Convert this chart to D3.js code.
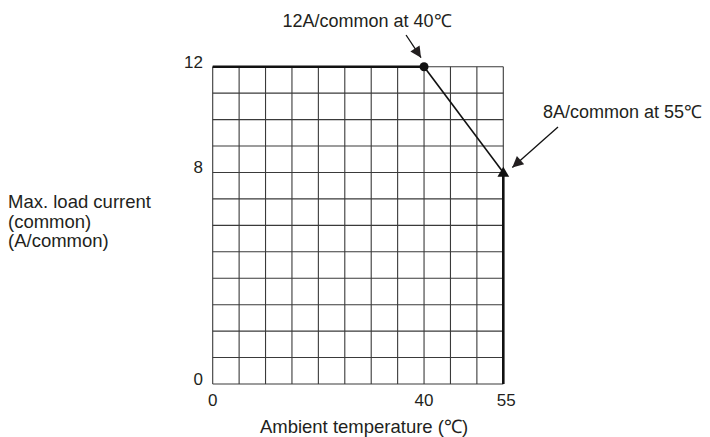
<html>
<head>
<script src="https://d3js.org/d3.v7.min.js"></script>
<style>
  body { margin: 0; background: #fff; }
  text { font-family: "Liberation Sans", Arial, sans-serif; fill: #231f20; }
</style>
</head>
<body>
<svg width="710" height="437"></svg>
<script>
// derating curve
var temps = [0, 40, 55, 55];
var currents = [12, 12, 8, 0];
var xTicks = [0, 40, 55];
var yTicks = [0, 8, 12];
var annoText = ["12A/common at 40\u2103", "8A/common at 55\u2103"];
var annoAt = [[40, 12], [55, 8]];

var svg = d3.select("svg");
var x = d3.scaleLinear().domain([0, 55]).range([212.7, 503.3]);
var y = d3.scaleLinear().domain([0, 12]).range([384, 66.7]);

var defs = svg.append("defs");
defs.append("marker")
  .attr("id", "head")
  .attr("viewBox", "0 0 10 10")
  .attr("refX", 10).attr("refY", 5)
  .attr("markerWidth", 13).attr("markerHeight", 11)
  .attr("markerUnits", "userSpaceOnUse")
  .attr("orient", "auto")
  .append("path").attr("d", "M0,0L10,5L0,10z").attr("fill", "#231f20");

var g = svg.append("g");

// grid
g.selectAll(".vx").data(d3.range(0, 56, 5)).enter().append("line")
  .attr("x1", d => x(d)).attr("x2", d => x(d))
  .attr("y1", y(0)).attr("y2", y(12))
  .attr("stroke", "#3a3a3a").attr("stroke-width", 1.1);
g.selectAll(".hy").data(d3.range(0, 13, 1)).enter().append("line")
  .attr("x1", x(0)).attr("x2", x(55))
  .attr("y1", d => y(d)).attr("y2", d => y(d))
  .attr("stroke", "#3a3a3a").attr("stroke-width", 1.1);

// curve segments
var pts = temps.map((t, i) => [t, currents[i]]);
var widths = [2.6, 1.6, 2.6];
for (var i = 0; i < pts.length - 1; i++) {
  g.append("line")
    .attr("x1", x(pts[i][0])).attr("y1", y(pts[i][1]))
    .attr("x2", x(pts[i + 1][0])).attr("y2", y(pts[i + 1][1]))
    .attr("stroke", "#111").attr("stroke-width", widths[i]);
}

// markers
g.append("circle").attr("cx", x(40)).attr("cy", y(12)).attr("r", 4.5).attr("fill", "#111");
g.append("path")
  .attr("d", d3.symbol().type(d3.symbolTriangle).size(60))
  .attr("transform", "translate(" + x(55) + "," + (y(8) + 1) + ")")
  .attr("fill", "#111");

// tick labels
g.selectAll(".yl").data(yTicks).enter().append("text")
  .attr("x", 203).attr("y", d => y(d) + 1)
  .attr("text-anchor", "end").attr("font-size", 17)
  .text(d => d);
g.selectAll(".xl").data(xTicks).enter().append("text")
  .attr("x", d => x(d) + (d == 55 ? 3 : 0)).attr("y", 406)
  .attr("text-anchor", "middle").attr("font-size", 17)
  .text(d => d);

// axis titles
g.append("text").attr("x", 364).attr("y", 433)
  .attr("text-anchor", "middle").attr("font-size", 18.5)
  .text("Ambient temperature (\u2103)");
g.append("text").attr("x", 8).attr("y", 208).attr("font-size", 18.5)
  .selectAll("tspan").data(["Max. load current", "(common)", "(A/common)"]).enter()
  .append("tspan").attr("x", 8).attr("dy", (d, i) => i ? 19.5 : 0).text(d => d);

// annotations
g.append("text").attr("x", 367).attr("y", 27).attr("text-anchor", "middle")
  .attr("font-size", 18).text(annoText[0]);
g.append("line")
  .attr("x1", x(annoAt[0][0]) - 18).attr("y1", 35)
  .attr("x2", x(annoAt[0][0]) - 3).attr("y2", y(annoAt[0][1]) - 9)
  .attr("stroke", "#111").attr("stroke-width", 1.3)
  .attr("marker-end", "url(#head)");

g.append("text").attr("x", 543).attr("y", 118)
  .attr("font-size", 18).text(annoText[1]);
g.append("line")
  .attr("x1", 558).attr("y1", 127)
  .attr("x2", x(annoAt[1][0]) + 9).attr("y2", y(annoAt[1][1]) - 5)
  .attr("stroke", "#111").attr("stroke-width", 1.3)
  .attr("marker-end", "url(#head)");
</script>
</body>
</html>
